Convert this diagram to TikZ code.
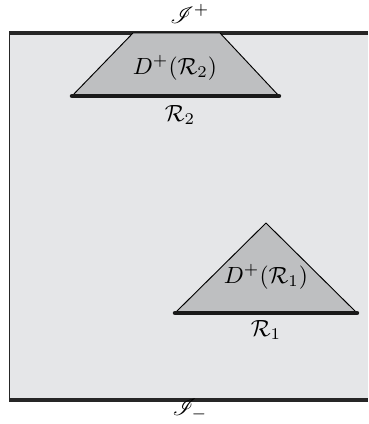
\documentclass[tikz,border=0pt]{standalone}
\usepackage{amsmath}
\usepackage{mathrsfs}
\usetikzlibrary{calc}
\definecolor{spacegray}{RGB}{229,230,232}
\definecolor{domgray}{RGB}{190,191,193}

\begin{document}
\begin{tikzpicture}[x=0.015cm, y=0.015cm, line join=round, line cap=round]
    \useasboundingbox (0,0) rectangle (368,424);
    \coordinate (SW) at (9.5,24);
    \coordinate (NW) at (9.5,391);
    \coordinate (SE) at (368,24);
    \coordinate (NE) at (368,391);
    % region R2 and its domain of dependence
    \coordinate (P) at (72,328);
    \coordinate (Q) at (279,328);
    \coordinate (P1) at (133,391);
    \coordinate (Q1) at (220,391);
    % region R1 and its domain of dependence
    \coordinate (A) at (175,111);
    \coordinate (B) at (357,111);
    \coordinate (C) at (266,201);
    \fill[spacegray] (SW) rectangle (NE);
    \draw[line width=0.6pt, black!85] (SW) -- (NW);
    \draw[line width=1.3pt, black!85, line cap=butt] (NW) -- (NE) (SW) -- (SE);
    \filldraw[fill=domgray, draw=black, thin] (P) -- (P1) -- (Q1) -- (Q) -- cycle;
    \filldraw[fill=domgray, draw=black, thin] (A) -- (C) -- (B) -- cycle;
    \draw[line width=1.9pt, black!90] (P) -- (Q) (A) -- (B);
    \node (scriplus) at (190,410) {$\mathscr{I}^+$};
    \node (scriminus) at (190,14) {$\mathscr{I}_-$};
    \node (dom2) at (175,356) {$D^+(\mathcal{R}_2)$};
    \node (reg2) at (180,309) {$\mathcal{R}_2$};
    \node (dom1) at (266,147) {$D^+(\mathcal{R}_1)$};
    \node (reg1) at (266,94) {$\mathcal{R}_1$};
  \end{tikzpicture}
\end{document}
